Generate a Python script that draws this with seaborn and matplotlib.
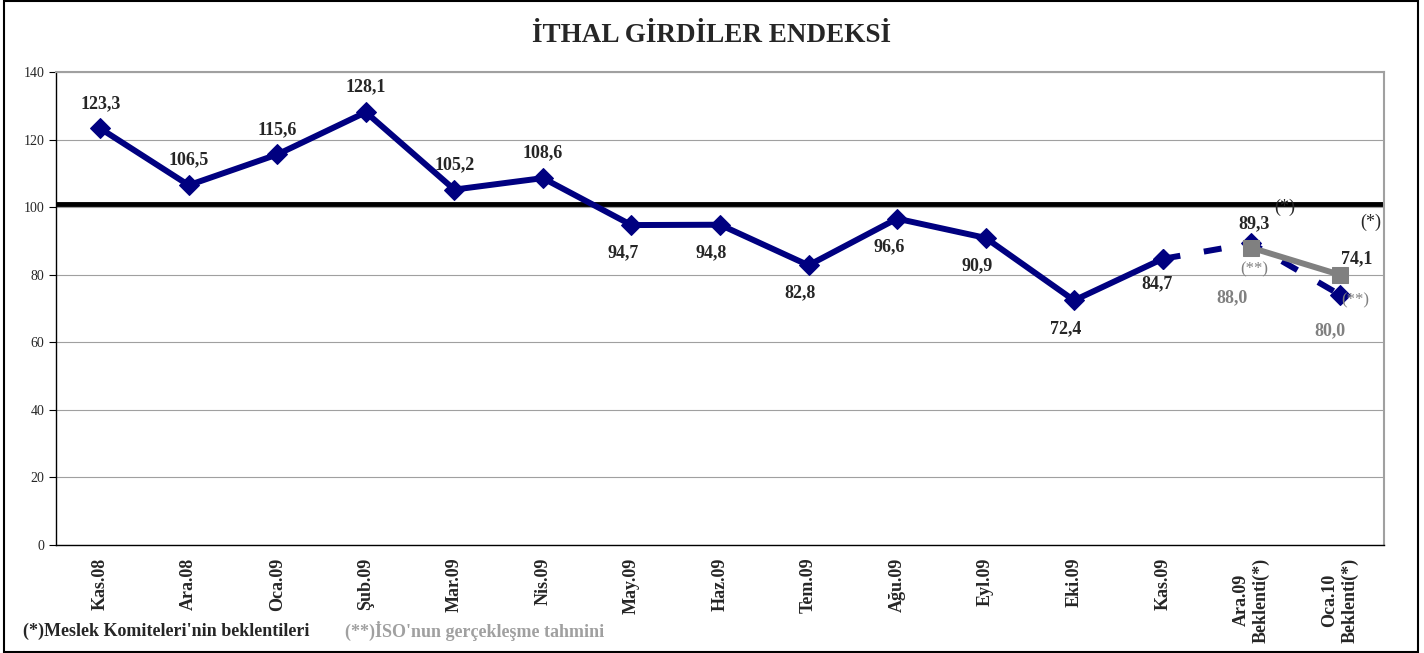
import numpy as np
import pandas as pd
import seaborn as sns
import matplotlib.pyplot as plt
from matplotlib.patches import Rectangle

# data
months = ['Kas.08', 'Ara.08', 'Oca.09', 'Şub.09', 'Mar.09', 'Nis.09', 'May.09', 'Haz.09',
          'Tem.09', 'Ağu.09', 'Eyl.09', 'Eki.09', 'Kas.09', 'Ara.09\nBeklenti(*)', 'Oca.10\nBeklenti(*)']
actual = [123.3, 106.5, 115.6, 128.1, 105.2, 108.6, 94.7, 94.8, 82.8, 96.6, 90.9, 72.4, 84.7]
expected = [84.7, 89.3, 74.1]        # Kas.09 -> Oca.10, committee expectations
iso_estimate = [88.0, 80.0]          # Ara.09, Oca.10
ref_level = 101

sns.set_style('white')
plt.rcParams['font.family'] = ['Liberation Serif', 'DejaVu Serif']
plt.rcParams['font.weight'] = 'bold'

navy = '#000080'
gray = '#808080'

df_act = pd.DataFrame({'x': np.arange(len(actual)), 'y': actual})
df_exp = pd.DataFrame({'x': np.arange(12, 15), 'y': expected})
df_iso = pd.DataFrame({'x': np.arange(13, 15), 'y': iso_estimate})

fig = plt.figure(figsize=(14.24, 6.53), dpi=100)
ax = fig.add_axes([0.0393, 0.1654, 0.9326, 0.7243])

ax.axhline(ref_level, color='black', lw=3.5, zorder=1)

sns.lineplot(data=df_act, x='x', y='y', ax=ax, color=navy, lw=4.3, marker='D',
             markersize=10, markeredgecolor=navy, zorder=3)
sns.lineplot(data=df_exp, x='x', y='y', ax=ax, color=navy, lw=4.3, marker='D',
             markersize=10, markeredgecolor=navy, zorder=3)
ax.lines[-1].set_dashes([3, 4])
sns.lineplot(data=df_iso, x='x', y='y', ax=ax, color=gray, lw=4.3, marker='s',
             markersize=11, markeredgecolor=gray, zorder=4)

# value labels
fmt = lambda v: f'{v:.1f}'.replace('.', ',')
above = [0, 1, 2, 3, 4, 5]
for i, v in enumerate(actual):
    if i in above:
        ax.annotate(fmt(v), (i, v), xytext=(0, 12), textcoords='offset points',
                    ha='center', va='bottom', fontsize=13, fontweight='bold')
    elif i == 12:
        ax.annotate(fmt(v), (i, v), xytext=(-4, -12), textcoords='offset points',
                    ha='center', va='top', fontsize=13, fontweight='bold')
    else:
        ax.annotate(fmt(v), (i, v), xytext=(-6, -14), textcoords='offset points',
                    ha='center', va='top', fontsize=13, fontweight='bold')
ax.annotate(fmt(expected[1]), (13, expected[1]), xytext=(2, 8), textcoords='offset points',
            ha='center', va='bottom', fontsize=13, fontweight='bold')
ax.annotate(fmt(expected[2]), (14, expected[2]), xytext=(12, 20), textcoords='offset points',
            ha='center', va='bottom', fontsize=13, fontweight='bold')
ax.annotate('(*)', (13, expected[1]), xytext=(24, 20), textcoords='offset points',
            ha='center', va='bottom', fontsize=13, fontweight='normal')
ax.annotate('(*)', (14, expected[2]), xytext=(22, 46), textcoords='offset points',
            ha='center', va='bottom', fontsize=13, fontweight='normal')
ax.annotate(fmt(iso_estimate[0]), (13, iso_estimate[0]), xytext=(-14, -30), textcoords='offset points',
            ha='center', va='top', fontsize=13, fontweight='bold', color=gray)
ax.annotate('(**)', (13, iso_estimate[0]), xytext=(2, -10), textcoords='offset points',
            ha='center', va='top', fontsize=12, fontweight='normal', color=gray)
ax.annotate(fmt(iso_estimate[1]), (14, iso_estimate[1]), xytext=(-7, -34), textcoords='offset points',
            ha='center', va='top', fontsize=13, fontweight='bold', color=gray)
ax.annotate('(**)', (14, iso_estimate[1]), xytext=(11, -13), textcoords='offset points',
            ha='center', va='top', fontsize=12, fontweight='normal', color=gray)

ax.set_xlim(-0.5, len(months) - 0.5)
ax.set_ylim(0, 140)
ax.set_yticks(range(0, 141, 20))
ax.set_yticklabels([str(t) for t in range(0, 141, 20)], fontsize=10, fontweight='normal')
ax.set_xticks(np.arange(len(months)))
ax.set_xticklabels(months, rotation=90, fontsize=13, fontweight='bold')
ax.set_xticks(np.arange(-0.5, len(months)), minor=True)
ax.tick_params(axis='x', which='major', length=0, pad=9)
ax.tick_params(axis='x', which='minor', length=5, color='black', direction='out')
ax.tick_params(axis='y', length=5, color='black', direction='out', left=True)
ax.set_xlabel('')
ax.set_ylabel('')
ax.grid(axis='y', color='#a0a0a0', lw=0.8)
ax.set_axisbelow(True)
for side in ['top', 'right']:
    ax.spines[side].set_color('#a0a0a0')
    ax.spines[side].set_linewidth(1.5)
for side in ['left', 'bottom']:
    ax.spines[side].set_color('black')
    ax.spines[side].set_linewidth(1.0)

fig.text(0.5, 0.945, 'İTHAL GİRDİLER ENDEKSİ', ha='center', va='center',
         fontsize=19.5, fontweight='bold')
fig.text(0.016, 0.033, "(*)Meslek Komiteleri'nin beklentileri", ha='left', va='center',
         fontsize=13, fontweight='bold')
fig.text(0.242, 0.033, "(**)İSO'nun gerçekleşme tahmini", ha='left', va='center',
         fontsize=13, fontweight='bold', color='#a0a0a0')

fig.patches.append(Rectangle((0.003, 0.002), 0.993, 0.996, transform=fig.transFigure,
                             fill=False, edgecolor='black', lw=1.5))

fig.savefig('out.png', dpi=100)
